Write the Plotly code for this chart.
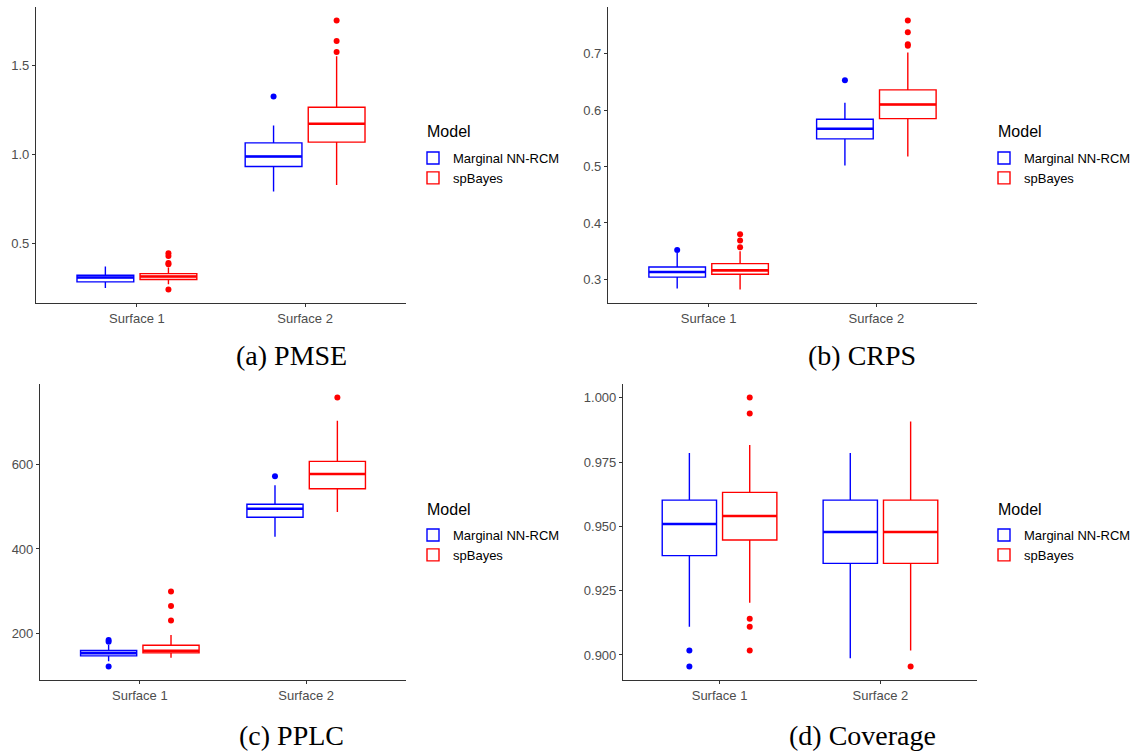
import plotly.graph_objects as go

W, H = 1141, 751

categories = ["Surface 1", "Surface 2"]
models = ["Marginal NN-RCM", "spBayes"]
colors = ["#0000FF", "#FF0000"]

# per surface: [lower whisker, q1, median, q3, upper whisker]
pmse_nn_stats = [[0.253, 0.287, 0.311, 0.324, 0.373], [0.793, 0.933, 0.989, 1.065, 1.162]]
pmse_nn_out = [[], [1.324]]
pmse_sp_stats = [[0.274, 0.300, 0.317, 0.333, 0.367], [0.829, 1.069, 1.172, 1.264, 1.549]]
pmse_sp_out = [[0.244, 0.385, 0.393, 0.432, 0.447], [1.574, 1.635, 1.750]]

crps_nn_stats = [[0.284, 0.304, 0.313, 0.322, 0.347], [0.502, 0.549, 0.567, 0.584, 0.613]]
crps_nn_out = [[0.352], [0.653]]
crps_sp_stats = [[0.282, 0.309, 0.316, 0.328, 0.350], [0.518, 0.585, 0.610, 0.636, 0.702]]
crps_sp_out = [[0.357, 0.369, 0.380], [0.714, 0.717, 0.738, 0.759]]

pplc_nn_stats = [[134.8, 147.4, 153.7, 159.9, 173.3], [429.0, 474.8, 495.1, 505.5, 550.4]]
pplc_nn_out = [[122.1, 180.4, 185.1], [571.6]]
pplc_sp_stats = [[142.6, 154.4, 159.2, 172.6, 196.9], [487.3, 542.4, 577.0, 607.0, 702.9]]
pplc_sp_out = [[230.7, 265.4, 299.2], [758.0]]

cov_nn_stats = [[0.9110, 0.9386, 0.9509, 0.9602, 0.9785], [0.8987, 0.9356, 0.9478, 0.9602, 0.9785]]
cov_nn_out = [[0.8955, 0.9017], []]
cov_sp_stats = [[0.9203, 0.9447, 0.9540, 0.9632, 0.9816], [0.9017, 0.9356, 0.9478, 0.9602, 0.9908]]
cov_sp_out = [[0.9017, 0.9110, 0.9141, 0.9939, 1.0001], [0.8955]]

pmse_ticks = [0.5, 1.0, 1.5]
crps_ticks = [0.3, 0.4, 0.5, 0.6, 0.7]
pplc_ticks = [200, 400, 600]
cov_ticks = [0.900, 0.925, 0.950, 0.975, 1.000]

legend_title = "Model"
captions = ["(a) PMSE", "(b) CRPS", "(c) PPLC", "(d) Coverage"]

panels = [
    dict(nn=pmse_nn_stats, nno=pmse_nn_out, sp=pmse_sp_stats, spo=pmse_sp_out, ticks=pmse_ticks, fmt=".1f",
         px=(36, 406), py=(7, 303), leg=(413, 143), title=(425, 132), cap=(291, 355)),
    dict(nn=crps_nn_stats, nno=crps_nn_out, sp=crps_sp_stats, spo=crps_sp_out, ticks=crps_ticks, fmt=".1f",
         px=(608, 977), py=(7, 303), leg=(984, 143), title=(996, 132), cap=(862, 355)),
    dict(nn=pplc_nn_stats, nno=pplc_nn_out, sp=pplc_sp_stats, spo=pplc_sp_out, ticks=pplc_ticks, fmt="d",
         px=(40, 406), py=(384, 680), leg=(413, 520), title=(425, 509), cap=(291, 735)),
    dict(nn=cov_nn_stats, nno=cov_nn_out, sp=cov_sp_stats, spo=cov_sp_out, ticks=cov_ticks, fmt=".3f",
         px=(623, 977), py=(384, 680), leg=(984, 520), title=(996, 509), cap=(862, 735)),
]

dodge = [-0.1875, 0.1875]
bw = 0.3375
axis_col = "#333333"
sans = "Liberation Sans, Arial, sans-serif"
tick_font = dict(family=sans, size=13, color="#4D4D4D")

fig = go.Figure()
layout = {}
annotations = []

for i, p in enumerate(panels):
    sfx = "" if i == 0 else str(i + 1)
    xa, ya = "x" + sfx, "y" + sfx
    leg_id = "legend" if i == 0 else "legend" + str(i + 1)
    allvals = []
    for m, (stats, outs) in enumerate([(p["nn"], p["nno"]), (p["sp"], p["spo"])]):
        pos = [c + dodge[m] for c in range(len(categories))]
        fig.add_trace(go.Box(
            x=pos,
            lowerfence=[s[0] for s in stats], q1=[s[1] for s in stats], median=[s[2] for s in stats],
            q3=[s[3] for s in stats], upperfence=[s[4] for s in stats],
            width=bw, whiskerwidth=0, orientation="v",
            line=dict(color=colors[m], width=1.4), fillcolor="white",
            name=models[m], legend=leg_id, xaxis=xa, yaxis=ya, hoverinfo="skip",
        ))
        mx, my = [], []
        for c, s in enumerate(stats):
            mx += [pos[c] - bw / 2, pos[c] + bw / 2, None]
            my += [s[2], s[2], None]
        fig.add_trace(go.Scatter(x=mx, y=my, mode="lines", line=dict(color=colors[m], width=2.6),
                                 showlegend=False, xaxis=xa, yaxis=ya, hoverinfo="skip"))
        ox, oy = [], []
        for c, o in enumerate(outs):
            ox += [pos[c]] * len(o)
            oy += o
        fig.add_trace(go.Scatter(x=ox, y=oy, mode="markers", marker=dict(color=colors[m], size=6),
                                 showlegend=False, xaxis=xa, yaxis=ya, hoverinfo="skip"))
        for s in stats:
            allvals += s
        for o in outs:
            allvals += o
    lo, hi = min(allvals), max(allvals)
    pad = (hi - lo) * 0.05
    x0, x1 = p["px"]
    y0, y1 = p["py"]
    layout["xaxis" + sfx] = dict(
        domain=[x0 / W, x1 / W], anchor=ya, range=[-0.6, 1.6],
        tickvals=list(range(len(categories))), ticktext=categories,
        showline=True, linecolor=axis_col, linewidth=1.1, ticks="outside", ticklen=3,
        tickcolor=axis_col, tickwidth=1, tickfont=tick_font, showgrid=False, zeroline=False)
    layout["yaxis" + sfx] = dict(
        domain=[1 - y1 / H, 1 - y0 / H], anchor=xa, range=[lo - pad, hi + pad],
        tickvals=p["ticks"], tickformat=p["fmt"],
        showline=True, linecolor=axis_col, linewidth=1.1, ticks="outside", ticklen=3,
        tickcolor=axis_col, tickwidth=1, tickfont=tick_font, showgrid=False, zeroline=False)
    lx, ly = p["leg"]
    layout[leg_id] = dict(
        x=lx / W, y=1 - ly / H, xanchor="left", yanchor="top",
        font=dict(family=sans, size=13, color="black"),
        bgcolor="rgba(0,0,0,0)", tracegroupgap=0)
    tx, ty = p["title"]
    annotations.append(dict(
        x=tx / W, y=1 - ty / H, xref="paper", yref="paper", text=legend_title, showarrow=False,
        xanchor="left", yanchor="middle", font=dict(family=sans, size=16, color="black")))
    cx, cy = p["cap"]
    annotations.append(dict(
        x=cx / W, y=1 - cy / H, xref="paper", yref="paper", text=captions[i], showarrow=False,
        xanchor="center", yanchor="middle",
        font=dict(family="Liberation Serif, Times New Roman, serif", size=28, color="black")))

fig.update_layout(
    width=W, height=H, margin=dict(l=0, r=0, t=0, b=0),
    paper_bgcolor="white", plot_bgcolor="white",
    boxmode="overlay", annotations=annotations, **layout)

fig.write_html("out.html")
